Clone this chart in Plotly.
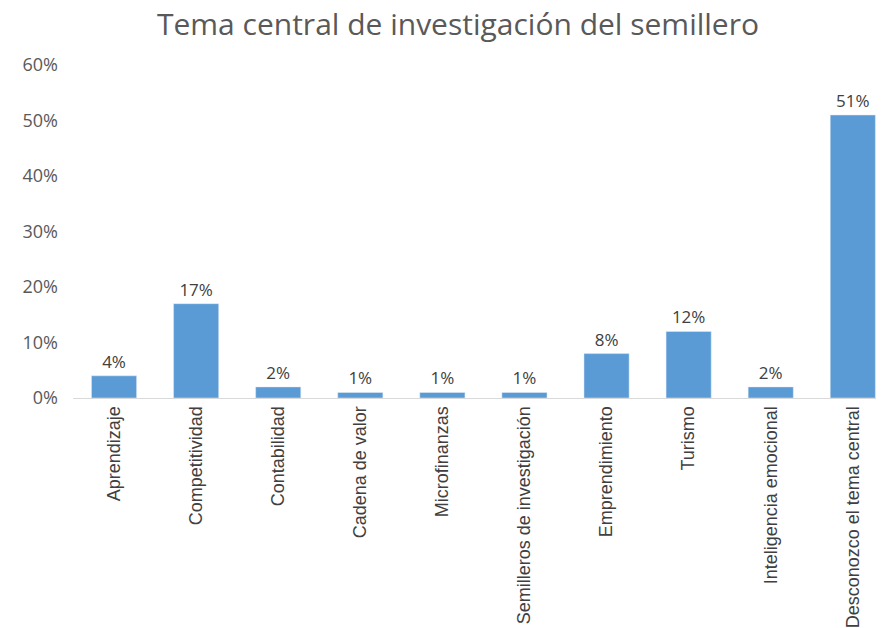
import plotly.graph_objects as go

categories = ["Aprendizaje", "Competitividad", "Contabilidad", "Cadena de valor",
              "Microfinanzas", "Semilleros de investigación", "Emprendimiento",
              "Turismo", "Inteligencia emocional", "Desconozco el tema central"]
values = [0.04, 0.17, 0.02, 0.01, 0.01, 0.01, 0.08, 0.12, 0.02, 0.51]
y_ticks = [0, 0.1, 0.2, 0.3, 0.4, 0.5, 0.6]
y_ticklabels = ["0%", "10%", "20%", "30%", "40%", "50%", "60%"]

fig = go.Figure(go.Bar(
    x=categories, y=values,
    marker_color="#5b9bd5",
    texttemplate="%{y:.0%}", textposition="outside",
    textfont=dict(family="Open Sans, Liberation Sans, sans-serif", size=17, color="#404040"),
    cliponaxis=False,
))

fig.update_layout(
    width=876, height=620,
    paper_bgcolor="white", plot_bgcolor="white",
    margin=dict(l=65, r=0, t=57, b=222),
    bargap=0.45,
    showlegend=False,
    title=dict(text="Tema central de investigación del semillero",
               x=450/876, xref="container", xanchor="center",
               y=1 - 16/620, yref="container", yanchor="middle",
               font=dict(family="Open Sans, Lato, sans-serif", size=30, color="#595959")),
)
fig.update_xaxes(
    type="category", range=[-0.5, 9.38],
    tickangle=-90, showline=True, linecolor="#d9d9d9", linewidth=1,
    showgrid=False, ticks="",
    tickfont=dict(family="Liberation Sans Narrow, Liberation Sans, Arial, sans-serif", size=18, color="#404040"),
    ticklabelstandoff=0,
)
fig.update_yaxes(
    range=[0, 0.6], tickvals=y_ticks, ticktext=y_ticklabels,
    showgrid=False, zeroline=False, showline=False,
    tickfont=dict(family="Open Sans, Liberation Sans, sans-serif", size=18, color="#595959"),
    ticklabelstandoff=14,
)

fig.write_html("out.html")
